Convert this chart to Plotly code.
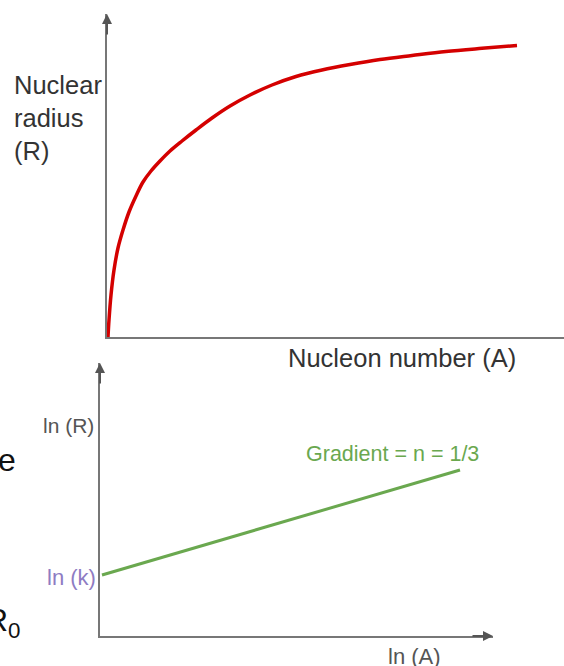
import plotly.graph_objects as go

W, H = 564, 666

# Top sketch: nuclear radius vs nucleon number (arbitrary sketch units)
nucleon_A = [1, 2, 4, 7, 11, 16, 22, 29, 36, 44, 53, 63, 75, 89, 105, 123, 143, 165,
             189, 215, 243, 273, 305, 339, 375, 410]
radius_R = [0, 17, 42, 67, 89, 107, 125, 141, 155, 166, 176, 186, 196, 207, 219, 231, 242, 252,
            260.5, 267, 272.5, 277.5, 281.5, 285.5, 288.7, 291.5]

# Bottom sketch: ln(R) vs ln(A) straight line
ln_A = [2, 360]
ln_R = [61, 166]

def px(x):
    return x / W

def py(y):
    return 1 - y / H

fig = go.Figure()
fig.add_trace(go.Scatter(x=nucleon_A, y=radius_R, mode="lines",
                         line=dict(color="#d40000", width=3.5, shape="spline", smoothing=1.0),
                         cliponaxis=False, xaxis="x", yaxis="y", hoverinfo="skip"))
fig.add_trace(go.Scatter(x=ln_A, y=ln_R, mode="lines",
                         line=dict(color="#6aa84f", width=3),
                         cliponaxis=False, xaxis="x2", yaxis="y2", hoverinfo="skip"))

axis_common = dict(showline=True, linecolor="#777777", linewidth=2, showgrid=False,
                   zeroline=False, showticklabels=False, ticks="", fixedrange=True)

fig.update_layout(
    width=W, height=H,
    margin=dict(l=0, r=0, t=0, b=0),
    paper_bgcolor="white", plot_bgcolor="white",
    showlegend=False,
    font=dict(family="Liberation Sans, Arial, sans-serif"),
    xaxis=dict(domain=[px(107), 1], range=[0, 457], anchor="y", **axis_common),
    yaxis=dict(domain=[py(337), py(14)], range=[0, 323], anchor="x", **axis_common),
    xaxis2=dict(domain=[px(100), px(493)], range=[0, 393], anchor="y2", **axis_common),
    yaxis2=dict(domain=[py(636), py(363)], range=[0, 273], anchor="x2", **axis_common),
)

arrow_col = "#555555"
arrows = [
    (107, 14, 0, 22),
    (100, 363, 0, 22),
    (493, 636, -22, 0),
]
for (x, y, ax, ay) in arrows:
    fig.add_annotation(x=px(x), y=py(y), xref="paper", yref="paper", text="",
                       showarrow=True, ax=ax, ay=ay, arrowhead=2, arrowsize=1,
                       arrowwidth=2, arrowcolor=arrow_col)

def label(text, x, y, size, color, xanchor="left", yanchor="middle"):
    fig.add_annotation(x=px(x), y=py(y), xref="paper", yref="paper", text=text,
                       showarrow=False, xanchor=xanchor, yanchor=yanchor, align="left",
                       font=dict(size=size, color=color,
                                 family="Liberation Sans, Arial, sans-serif"))

label("Nuclear<br>radius<br>(R)", 12, 118, 25.5, "#333333")
label("Nucleon number (A)", 286, 358, 25.5, "#333333")
label("ln (R)", 41, 425, 21, "#555555")
label("Gradient = n = 1/3", 304, 454, 21.5, "#6aa84f")
label("ln (k)", 98, 577, 22, "#8e7cc3", xanchor="right")
label("ln (A)", 386, 656, 22, "#555555")
label("e", 18, 460, 32, "#111111", xanchor="right")
label("R<sub>0</sub>", 23, 622, 32, "#111111", xanchor="right")

fig.write_html("out.html", config={"displayModeBar": False},
               post_script="document.body.style.margin='0';document.body.style.overflow='hidden';")
